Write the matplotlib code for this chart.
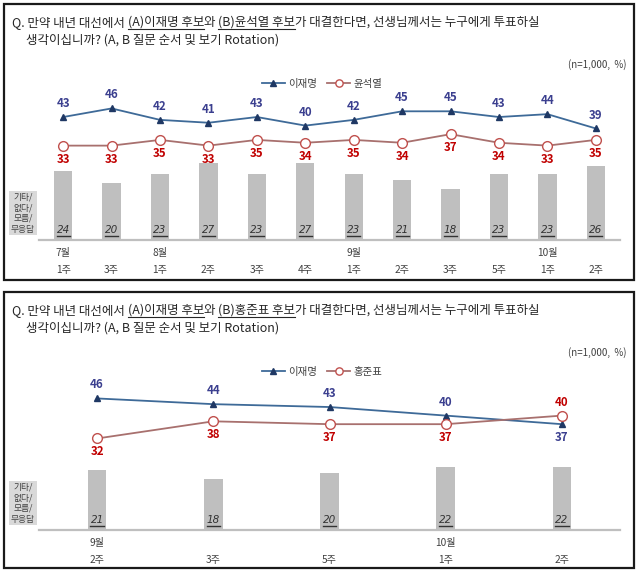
import matplotlib
matplotlib.use('Agg')
import matplotlib.pyplot as plt
from matplotlib.patches import Rectangle
from matplotlib.lines import Line2D

plt.rcParams['font.family'] = ['Noto Sans CJK KR', 'DejaVu Sans']

# ---- data ----
weeks1 = ['1주', '3주', '1주', '2주', '3주', '4주', '1주', '2주', '3주', '5주', '1주', '2주']
months1 = ['7월', '', '8월', '', '', '', '9월', '', '', '', '10월', '']
lee1 = [43, 46, 42, 41, 43, 40, 42, 45, 45, 43, 44, 39]
yoon1 = [33, 33, 35, 33, 35, 34, 35, 34, 37, 34, 33, 35]
etc1 = [24, 20, 23, 27, 23, 27, 23, 21, 18, 23, 23, 26]

weeks2 = ['2주', '3주', '5주', '1주', '2주']
months2 = ['9월', '', '', '10월', '']
lee2 = [46, 44, 43, 40, 37]
hong2 = [32, 38, 37, 37, 40]
etc2 = [21, 18, 20, 22, 22]

# ---- style ----
W, H = 640, 572
BLUE_LINE = '#3E6A98'
BLUE_MK = '#1F3864'
BLUE_TXT = '#3B3F8F'
RED_LINE = '#A8706E'
RED_MK = '#C0504D'
RED_TXT = '#C00000'
BAR = '#BFBFBF'
TXT = '#404040'


def fx(x):
    return x / W


def fy(y):
    return 1 - y / H


fig = plt.figure(figsize=(6.4, 5.72), dpi=100)
renderer = fig.canvas.get_renderer()


def underline(t, gap=1.5, lw=0.8, color='#262626'):
    bb = t.get_window_extent(renderer)
    fig.add_artist(Line2D([bb.x0 / W, bb.x1 / W], [(bb.y0 - gap) / H] * 2,
                          color=color, lw=lw))


def title(top, name_b):
    # first line with underlined parts
    pieces = [('Q. 만약 내년 대선에서 ', False), ('(A)이재명 후보', True), ('와 ', False),
              (f'(B){name_b} 후보', True), ('가 대결한다면, 선생님께서는 누구에게 투표하실', False)]
    x = 12
    for s, ul in pieces:
        t = fig.text(fx(x), fy(top), s, fontsize=9, color='#262626', va='baseline')
        bb = t.get_window_extent(renderer)
        if ul:
            fig.add_artist(Line2D([fx(x), fx(x) + bb.width / W], [fy(top + 2.5)] * 2,
                                  color='#262626', lw=0.8))
        x += bb.width
    fig.text(fx(26), fy(top + 18), '생각이십니까? (A, B 질문 순서 및 보기 Rotation)',
             fontsize=9, color='#262626', va='baseline')


def panel(box_top, box_bot, base_y, a, b, etc, months, weeks, name_b, barw):
    fig.add_artist(Rectangle((fx(4), fy(box_bot)), fx(630), (box_bot - box_top) / H,
                             fill=False, ec='#1a1a1a', lw=1.6))
    title(box_top + 22, name_b)
    fig.text(fx(627), fy(box_top + 61), '(n=1,000,  %)', fontsize=7, color=TXT,
             ha='right', va='center')

    scale = 2.86
    top = 143
    ax = fig.add_axes([fx(39), fy(base_y), fx(581), top / H])
    n = len(a)
    xs = list(range(n))
    ax.set_xlim(-0.5, n - 0.5)
    ax.set_ylim(0, top / scale)
    for s in ['top', 'left', 'right']:
        ax.spines[s].set_visible(False)
    ax.spines['bottom'].set_color(BAR)
    ax.spines['bottom'].set_linewidth(1.6)
    ax.set_xticks([])
    ax.set_yticks([])
    ax.patch.set_alpha(0)

    ax.bar(xs, etc, width=barw, color=BAR, zorder=1)
    la, = ax.plot(xs, a, color=BLUE_LINE, lw=1.3, marker='^', ms=5,
                  mfc=BLUE_MK, mec=BLUE_MK, zorder=3)
    lb, = ax.plot(xs, b, color=RED_LINE, lw=1.3, marker='o', ms=7,
                  mfc='white', mec=RED_MK, mew=1.0, zorder=3)

    for i in xs:
        up_a = a[i] >= b[i]
        ax.annotate(str(a[i]), (i, a[i]), xytext=(0, 5 if up_a else -5),
                    textcoords='offset points', ha='center',
                    va='bottom' if up_a else 'top', fontsize=8.3,
                    fontweight='bold', color=BLUE_TXT)
        ax.annotate(str(b[i]), (i, b[i]), xytext=(0, -5 if up_a else 5),
                    textcoords='offset points', ha='center',
                    va='top' if up_a else 'bottom', fontsize=8.3,
                    fontweight='bold', color=RED_TXT)
        t = ax.annotate(str(etc[i]), (i, 0), xytext=(0, 3.5), textcoords='offset points',
                        ha='center', va='bottom', fontsize=7.5, fontstyle='italic',
                        color='#333333', family='DejaVu Sans')
        underline(t, gap=0.5, lw=1.0, color='#333333')
        ax.annotate(months[i], (i, 0), xytext=(0, -9.5), textcoords='offset points',
                    ha='center', va='center', fontsize=7.3, color=TXT,
                    annotation_clip=False)
        ax.annotate(weeks[i], (i, 0), xytext=(0, -21.5), textcoords='offset points',
                    ha='center', va='center', fontsize=7.3, color=TXT,
                    annotation_clip=False)

    fig.legend([la, lb], ['이재명', name_b], loc='center',
               bbox_to_anchor=(fx(322), fy(box_top + 80)), ncol=2, frameon=False,
               fontsize=7.5, handlelength=2.2, columnspacing=1.0, handletextpad=0.3,
               labelcolor=TXT, markerscale=0.75)

    fig.text(fx(23), fy(base_y - 27), '기타/\n없다/\n모름/\n무응답', fontsize=6.3,
             color=TXT, ha='center', va='center', linespacing=1.25,
             bbox=dict(facecolor='#D9D9D9', edgecolor='none', pad=1.2))


panel(4, 280, 240, lee1, yoon1, etc1, months1, weeks1, '윤석열', 0.38)
panel(292, 568, 530, lee2, hong2, etc2, months2, weeks2, '홍준표', 0.16)

fig.savefig('out.png', dpi=100)
